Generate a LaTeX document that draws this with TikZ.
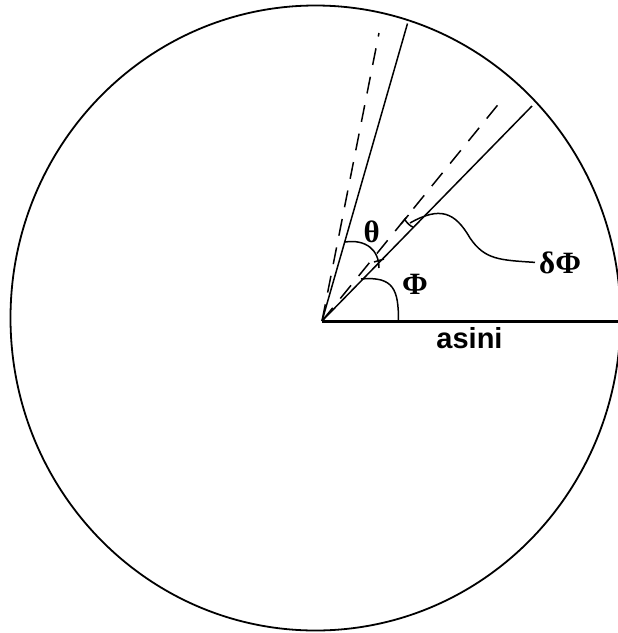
\documentclass[tikz,border=0pt]{standalone}
\usepackage{fontspec}
\setmainfont{Liberation Sans}
\newfontfamily\greekfont{Liberation Serif}
\usepackage{tikz}

\begin{document}
\begin{tikzpicture}[x=1pt,y=-1pt,>=stealth]
    \tikzstyle{lbl}=[inner sep=0pt, anchor=base, font=\fontsize{29}{32}\selectfont\bfseries]
    \tikzstyle{glbl}=[inner sep=0pt, anchor=base, font=\fontsize{31}{34}\selectfont\greekfont\bfseries]
    \tikzstyle{ray}=[line width=1.5pt]
    \tikzstyle{dray}=[line width=1.5pt, dash pattern=on 17pt off 12pt]

    \useasboundingbox (0,0) rectangle (618,633);
    \clip (0,0) rectangle (618,633);

    \draw[line width=1.8pt] (315.5,318) ellipse [x radius=305pt, y radius=312.5pt];

    \coordinate (O) at (322,321);
    \coordinate (topSolid) at (407.5,23.5);
    \coordinate (topDash) at (379,33);
    \coordinate (midSolid) at (532,106);
    \coordinate (midDash) at (503,98.5);
    \coordinate (rimEnd) at (620,321);

    \draw[ray] (O) -- (topSolid);
    \draw[dray] (O) -- (topDash);
    \draw[ray] (O) -- (midSolid);
    \draw[dray] (O) -- (midDash);
    \draw[line width=3pt] (O) -- (rimEnd);

    \node[glbl] (theta) at (371.7,242) {θ};
    \node[glbl] (phi) at (415,294) {Φ};
    \node[glbl, inner sep=4pt, anchor=base west] (dphi) at (535,273) {δΦ};
    \node[lbl] (asini) at (469.5,348) {asini};

    \draw[ray] (345,242) .. controls (366,239) and (379,250) .. (379,268);
    \draw[ray] (374,262) -- (384,259);
    \draw[ray] (361,279) .. controls (394,276) and (398.5,290) .. (398.5,321);

    \coordinate (mark) at (410,223);
    \draw[ray] (404.7,219.4) .. controls (407,223) and (410,226) .. (413.6,227.4);
    \draw[ray] (401,224) -- (408.5,215);
    \draw[ray] (mark) .. controls (440,206) and (455,212) .. (470,238)
        .. controls (485,260) and (500,260) .. (dphi.west);
\end{tikzpicture}
\end{document}
